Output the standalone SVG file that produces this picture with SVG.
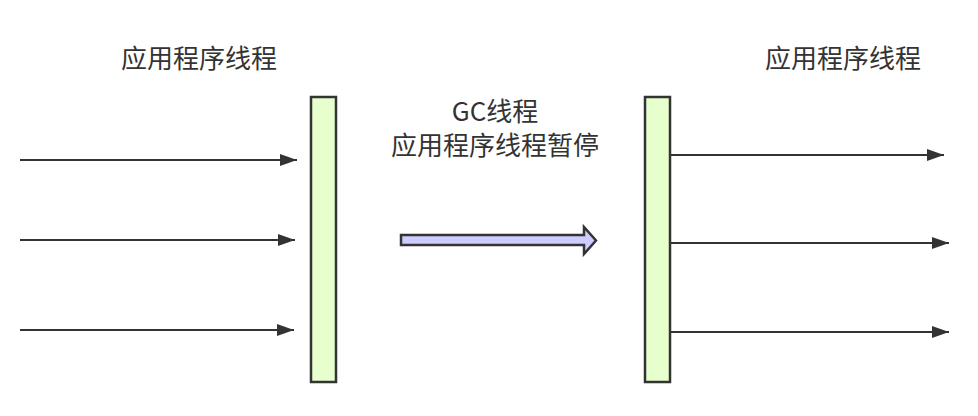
<svg xmlns="http://www.w3.org/2000/svg" width="978" height="416" viewBox="0 0 978 416">
<style>
.t{font-family:"Noto Sans CJK SC","Microsoft YaHei",sans-serif;font-size:26px;fill:#333;text-anchor:middle}
.bar{fill:#e6ffcc;stroke:#333;stroke-width:2.5}
.ln{stroke:#333;stroke-width:2;fill:none;marker-end:url(#ah)}
</style>
<defs>
<marker id="ah" viewBox="0 0 17 12" refX="17" refY="6" markerWidth="17" markerHeight="12" markerUnits="userSpaceOnUse" orient="auto">
<path d="M0,0 L17,6 L0,12 z" fill="#333"/>
</marker>
</defs>
<rect width="978" height="416" fill="#fff"/>
<g id="title-left"><text class="t" x="199" y="68">应用程序线程</text></g>
<g id="title-right"><text class="t" x="843" y="68">应用程序线程</text></g>
<g id="gc-label"><text class="t" x="495" y="121">GC线程</text><text class="t" x="495" y="155">应用程序线程暂停</text></g>
<g id="bar-left"><rect class="bar" x="311" y="97" width="25" height="285"/></g>
<g id="bar-right"><rect class="bar" x="645" y="97" width="25" height="285"/></g>
<g id="block-arrow"><path d="M401,235 L584,235 L584,227 L596,240.5 L584,254 L584,245 L401,245 z" fill="#ccccff" stroke="#333" stroke-width="2.5" stroke-linejoin="miter"/></g>
<g id="connectors">
<line class="ln" x1="20" y1="160" x2="297" y2="160"/>
<line class="ln" x1="20" y1="240" x2="295" y2="240"/>
<line class="ln" x1="20" y1="330" x2="294" y2="330"/>
<line class="ln" x1="671" y1="155" x2="944" y2="155"/>
<line class="ln" x1="671" y1="243" x2="949" y2="243"/>
<line class="ln" x1="671" y1="332" x2="949" y2="332"/>
</g>
</svg>
